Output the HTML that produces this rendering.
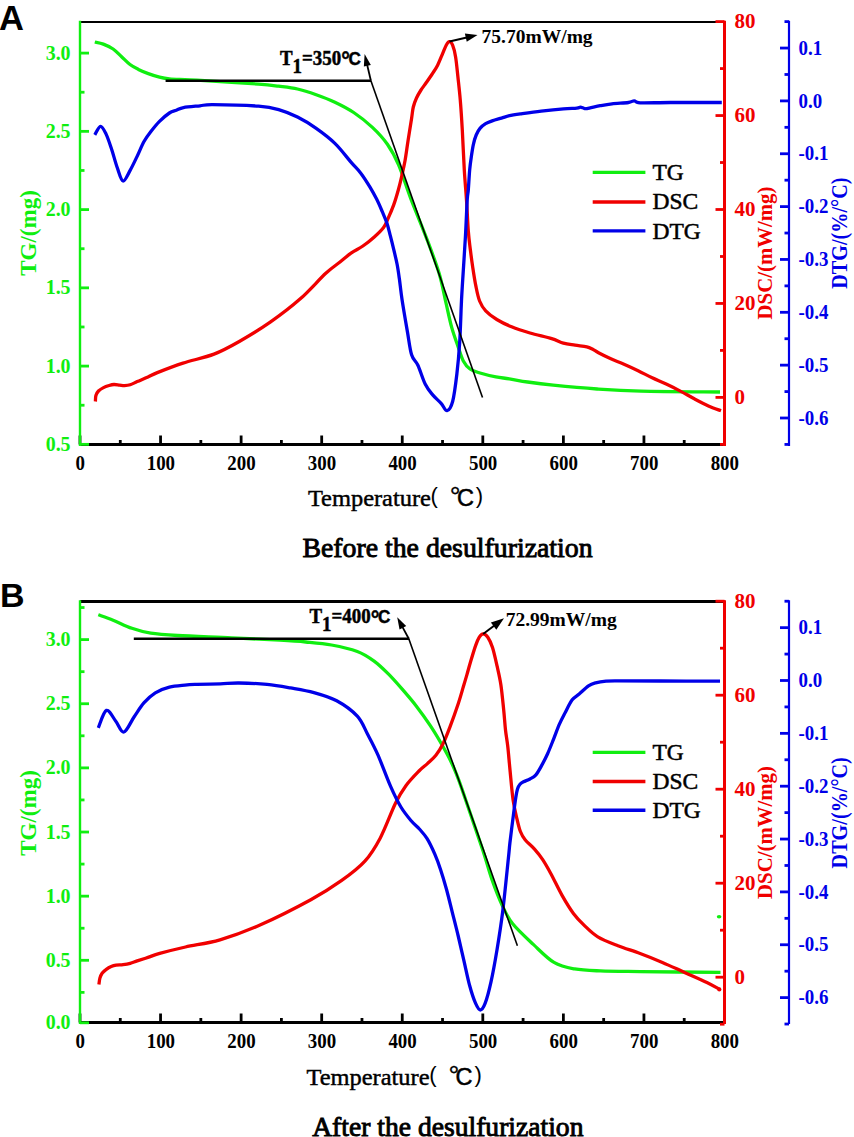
<!DOCTYPE html>
<html><head><meta charset="utf-8"><style>
html,body{margin:0;padding:0;background:#fff;}
body{width:854px;height:1137px;overflow:hidden;}
svg{display:block;}
</style></head><body>
<svg width="854" height="1137" viewBox="0 0 854 1137">
<rect width="854" height="1137" fill="#fff"/>
<line x1="80" y1="22" x2="724.5" y2="22" stroke="#000" stroke-width="2.1" stroke-linecap="butt"/>
<line x1="80" y1="444.5" x2="725.7" y2="444.5" stroke="#000" stroke-width="3.0" stroke-linecap="butt"/>
<line x1="80" y1="444.5" x2="80" y2="435.5" stroke="#000" stroke-width="2.8" stroke-linecap="butt"/>
<text transform="translate(80.3,470.1) scale(0.9,1)" font-family="Liberation Serif" font-size="21" font-weight="bold" fill="#000" text-anchor="middle">0</text>
<line x1="120.28" y1="444.5" x2="120.28" y2="440" stroke="#000" stroke-width="2.8" stroke-linecap="butt"/>
<line x1="160.56" y1="444.5" x2="160.56" y2="435.5" stroke="#000" stroke-width="2.8" stroke-linecap="butt"/>
<text transform="translate(160.86,470.1) scale(0.9,1)" font-family="Liberation Serif" font-size="21" font-weight="bold" fill="#000" text-anchor="middle">100</text>
<line x1="200.84" y1="444.5" x2="200.84" y2="440" stroke="#000" stroke-width="2.8" stroke-linecap="butt"/>
<line x1="241.12" y1="444.5" x2="241.12" y2="435.5" stroke="#000" stroke-width="2.8" stroke-linecap="butt"/>
<text transform="translate(241.43,470.1) scale(0.9,1)" font-family="Liberation Serif" font-size="21" font-weight="bold" fill="#000" text-anchor="middle">200</text>
<line x1="281.41" y1="444.5" x2="281.41" y2="440" stroke="#000" stroke-width="2.8" stroke-linecap="butt"/>
<line x1="321.69" y1="444.5" x2="321.69" y2="435.5" stroke="#000" stroke-width="2.8" stroke-linecap="butt"/>
<text transform="translate(321.99,470.1) scale(0.9,1)" font-family="Liberation Serif" font-size="21" font-weight="bold" fill="#000" text-anchor="middle">300</text>
<line x1="361.97" y1="444.5" x2="361.97" y2="440" stroke="#000" stroke-width="2.8" stroke-linecap="butt"/>
<line x1="402.25" y1="444.5" x2="402.25" y2="435.5" stroke="#000" stroke-width="2.8" stroke-linecap="butt"/>
<text transform="translate(402.55,470.1) scale(0.9,1)" font-family="Liberation Serif" font-size="21" font-weight="bold" fill="#000" text-anchor="middle">400</text>
<line x1="442.53" y1="444.5" x2="442.53" y2="440" stroke="#000" stroke-width="2.8" stroke-linecap="butt"/>
<line x1="482.81" y1="444.5" x2="482.81" y2="435.5" stroke="#000" stroke-width="2.8" stroke-linecap="butt"/>
<text transform="translate(483.11,470.1) scale(0.9,1)" font-family="Liberation Serif" font-size="21" font-weight="bold" fill="#000" text-anchor="middle">500</text>
<line x1="523.09" y1="444.5" x2="523.09" y2="440" stroke="#000" stroke-width="2.8" stroke-linecap="butt"/>
<line x1="563.38" y1="444.5" x2="563.38" y2="435.5" stroke="#000" stroke-width="2.8" stroke-linecap="butt"/>
<text transform="translate(563.67,470.1) scale(0.9,1)" font-family="Liberation Serif" font-size="21" font-weight="bold" fill="#000" text-anchor="middle">600</text>
<line x1="603.66" y1="444.5" x2="603.66" y2="440" stroke="#000" stroke-width="2.8" stroke-linecap="butt"/>
<line x1="643.94" y1="444.5" x2="643.94" y2="435.5" stroke="#000" stroke-width="2.8" stroke-linecap="butt"/>
<text transform="translate(644.24,470.1) scale(0.9,1)" font-family="Liberation Serif" font-size="21" font-weight="bold" fill="#000" text-anchor="middle">700</text>
<line x1="684.22" y1="444.5" x2="684.22" y2="440" stroke="#000" stroke-width="2.8" stroke-linecap="butt"/>
<line x1="724.5" y1="444.5" x2="724.5" y2="435.5" stroke="#000" stroke-width="2.8" stroke-linecap="butt"/>
<text transform="translate(724.8,470.1) scale(0.9,1)" font-family="Liberation Serif" font-size="21" font-weight="bold" fill="#000" text-anchor="middle">800</text>
<line x1="80" y1="20.8" x2="80" y2="445.9" stroke="#10ee10" stroke-width="2.4" stroke-linecap="butt"/>
<line x1="80" y1="444.35" x2="89" y2="444.35" stroke="#10ee10" stroke-width="2.8" stroke-linecap="butt"/>
<text transform="translate(70.6,450.95) scale(0.95,1)" font-family="Liberation Serif" font-size="21" font-weight="bold" fill="#10ee10" text-anchor="end">0.5</text>
<line x1="80" y1="405.23" x2="84.5" y2="405.23" stroke="#10ee10" stroke-width="2.8" stroke-linecap="butt"/>
<line x1="80" y1="366.1" x2="89" y2="366.1" stroke="#10ee10" stroke-width="2.8" stroke-linecap="butt"/>
<text transform="translate(70.6,372.7) scale(0.95,1)" font-family="Liberation Serif" font-size="21" font-weight="bold" fill="#10ee10" text-anchor="end">1.0</text>
<line x1="80" y1="326.98" x2="84.5" y2="326.98" stroke="#10ee10" stroke-width="2.8" stroke-linecap="butt"/>
<line x1="80" y1="287.85" x2="89" y2="287.85" stroke="#10ee10" stroke-width="2.8" stroke-linecap="butt"/>
<text transform="translate(70.6,294.45) scale(0.95,1)" font-family="Liberation Serif" font-size="21" font-weight="bold" fill="#10ee10" text-anchor="end">1.5</text>
<line x1="80" y1="248.72" x2="84.5" y2="248.72" stroke="#10ee10" stroke-width="2.8" stroke-linecap="butt"/>
<line x1="80" y1="209.6" x2="89" y2="209.6" stroke="#10ee10" stroke-width="2.8" stroke-linecap="butt"/>
<text transform="translate(70.6,216.2) scale(0.95,1)" font-family="Liberation Serif" font-size="21" font-weight="bold" fill="#10ee10" text-anchor="end">2.0</text>
<line x1="80" y1="170.47" x2="84.5" y2="170.47" stroke="#10ee10" stroke-width="2.8" stroke-linecap="butt"/>
<line x1="80" y1="131.35" x2="89" y2="131.35" stroke="#10ee10" stroke-width="2.8" stroke-linecap="butt"/>
<text transform="translate(70.6,137.95) scale(0.95,1)" font-family="Liberation Serif" font-size="21" font-weight="bold" fill="#10ee10" text-anchor="end">2.5</text>
<line x1="80" y1="92.22" x2="84.5" y2="92.22" stroke="#10ee10" stroke-width="2.8" stroke-linecap="butt"/>
<line x1="80" y1="53.1" x2="89" y2="53.1" stroke="#10ee10" stroke-width="2.8" stroke-linecap="butt"/>
<text transform="translate(70.6,59.7) scale(0.95,1)" font-family="Liberation Serif" font-size="21" font-weight="bold" fill="#10ee10" text-anchor="end">3.0</text>
<line x1="724.5" y1="20.8" x2="724.5" y2="445.9" stroke="#f00000" stroke-width="3.0" stroke-linecap="butt"/>
<line x1="724.5" y1="444.38" x2="720" y2="444.38" stroke="#f00000" stroke-width="2.8" stroke-linecap="butt"/>
<line x1="724.5" y1="397.4" x2="715.5" y2="397.4" stroke="#f00000" stroke-width="2.8" stroke-linecap="butt"/>
<text x="734.5" y="404" font-family="Liberation Serif" font-size="21" font-weight="bold" fill="#f00000" text-anchor="start" >0</text>
<line x1="724.5" y1="350.42" x2="720" y2="350.42" stroke="#f00000" stroke-width="2.8" stroke-linecap="butt"/>
<line x1="724.5" y1="303.45" x2="715.5" y2="303.45" stroke="#f00000" stroke-width="2.8" stroke-linecap="butt"/>
<text x="734.5" y="310.05" font-family="Liberation Serif" font-size="21" font-weight="bold" fill="#f00000" text-anchor="start" >20</text>
<line x1="724.5" y1="256.48" x2="720" y2="256.48" stroke="#f00000" stroke-width="2.8" stroke-linecap="butt"/>
<line x1="724.5" y1="209.5" x2="715.5" y2="209.5" stroke="#f00000" stroke-width="2.8" stroke-linecap="butt"/>
<text x="734.5" y="216.1" font-family="Liberation Serif" font-size="21" font-weight="bold" fill="#f00000" text-anchor="start" >40</text>
<line x1="724.5" y1="162.52" x2="720" y2="162.52" stroke="#f00000" stroke-width="2.8" stroke-linecap="butt"/>
<line x1="724.5" y1="115.55" x2="715.5" y2="115.55" stroke="#f00000" stroke-width="2.8" stroke-linecap="butt"/>
<text x="734.5" y="122.15" font-family="Liberation Serif" font-size="21" font-weight="bold" fill="#f00000" text-anchor="start" >60</text>
<line x1="724.5" y1="68.57" x2="720" y2="68.57" stroke="#f00000" stroke-width="2.8" stroke-linecap="butt"/>
<line x1="724.5" y1="21.6" x2="715.5" y2="21.6" stroke="#f00000" stroke-width="2.8" stroke-linecap="butt"/>
<text x="734.5" y="28.2" font-family="Liberation Serif" font-size="21" font-weight="bold" fill="#f00000" text-anchor="start" >80</text>
<line x1="789" y1="20.8" x2="789" y2="445.9" stroke="#0000e8" stroke-width="2.2" stroke-linecap="butt"/>
<line x1="789" y1="444.43" x2="784.5" y2="444.43" stroke="#0000e8" stroke-width="2.8" stroke-linecap="butt"/>
<line x1="789" y1="418" x2="780" y2="418" stroke="#0000e8" stroke-width="2.8" stroke-linecap="butt"/>
<text transform="translate(798.5,424.6) scale(0.9,1)" font-family="Liberation Serif" font-size="21" font-weight="bold" fill="#0000e8">-0.6</text>
<line x1="789" y1="391.58" x2="784.5" y2="391.58" stroke="#0000e8" stroke-width="2.8" stroke-linecap="butt"/>
<line x1="789" y1="365.15" x2="780" y2="365.15" stroke="#0000e8" stroke-width="2.8" stroke-linecap="butt"/>
<text transform="translate(798.5,371.75) scale(0.9,1)" font-family="Liberation Serif" font-size="21" font-weight="bold" fill="#0000e8">-0.5</text>
<line x1="789" y1="338.73" x2="784.5" y2="338.73" stroke="#0000e8" stroke-width="2.8" stroke-linecap="butt"/>
<line x1="789" y1="312.3" x2="780" y2="312.3" stroke="#0000e8" stroke-width="2.8" stroke-linecap="butt"/>
<text transform="translate(798.5,318.9) scale(0.9,1)" font-family="Liberation Serif" font-size="21" font-weight="bold" fill="#0000e8">-0.4</text>
<line x1="789" y1="285.88" x2="784.5" y2="285.88" stroke="#0000e8" stroke-width="2.8" stroke-linecap="butt"/>
<line x1="789" y1="259.45" x2="780" y2="259.45" stroke="#0000e8" stroke-width="2.8" stroke-linecap="butt"/>
<text transform="translate(798.5,266.05) scale(0.9,1)" font-family="Liberation Serif" font-size="21" font-weight="bold" fill="#0000e8">-0.3</text>
<line x1="789" y1="233.03" x2="784.5" y2="233.03" stroke="#0000e8" stroke-width="2.8" stroke-linecap="butt"/>
<line x1="789" y1="206.6" x2="780" y2="206.6" stroke="#0000e8" stroke-width="2.8" stroke-linecap="butt"/>
<text transform="translate(798.5,213.2) scale(0.9,1)" font-family="Liberation Serif" font-size="21" font-weight="bold" fill="#0000e8">-0.2</text>
<line x1="789" y1="180.18" x2="784.5" y2="180.18" stroke="#0000e8" stroke-width="2.8" stroke-linecap="butt"/>
<line x1="789" y1="153.75" x2="780" y2="153.75" stroke="#0000e8" stroke-width="2.8" stroke-linecap="butt"/>
<text transform="translate(798.5,160.35) scale(0.9,1)" font-family="Liberation Serif" font-size="21" font-weight="bold" fill="#0000e8">-0.1</text>
<line x1="789" y1="127.33" x2="784.5" y2="127.33" stroke="#0000e8" stroke-width="2.8" stroke-linecap="butt"/>
<line x1="789" y1="100.9" x2="780" y2="100.9" stroke="#0000e8" stroke-width="2.8" stroke-linecap="butt"/>
<text transform="translate(798.5,107.5) scale(0.9,1)" font-family="Liberation Serif" font-size="21" font-weight="bold" fill="#0000e8">0.0</text>
<line x1="789" y1="74.48" x2="784.5" y2="74.48" stroke="#0000e8" stroke-width="2.8" stroke-linecap="butt"/>
<line x1="789" y1="48.05" x2="780" y2="48.05" stroke="#0000e8" stroke-width="2.8" stroke-linecap="butt"/>
<text transform="translate(798.5,54.65) scale(0.9,1)" font-family="Liberation Serif" font-size="21" font-weight="bold" fill="#0000e8">0.1</text>
<line x1="789" y1="21.62" x2="784.5" y2="21.62" stroke="#0000e8" stroke-width="2.8" stroke-linecap="butt"/>
<line x1="80" y1="601.5" x2="724.5" y2="601.5" stroke="#000" stroke-width="2.9" stroke-linecap="butt"/>
<line x1="80" y1="1022.5" x2="725.7" y2="1022.5" stroke="#000" stroke-width="3.0" stroke-linecap="butt"/>
<line x1="80" y1="1022.5" x2="80" y2="1013.5" stroke="#000" stroke-width="2.8" stroke-linecap="butt"/>
<text transform="translate(80.3,1048.1) scale(0.9,1)" font-family="Liberation Serif" font-size="21" font-weight="bold" fill="#000" text-anchor="middle">0</text>
<line x1="120.28" y1="1022.5" x2="120.28" y2="1018" stroke="#000" stroke-width="2.8" stroke-linecap="butt"/>
<line x1="160.56" y1="1022.5" x2="160.56" y2="1013.5" stroke="#000" stroke-width="2.8" stroke-linecap="butt"/>
<text transform="translate(160.86,1048.1) scale(0.9,1)" font-family="Liberation Serif" font-size="21" font-weight="bold" fill="#000" text-anchor="middle">100</text>
<line x1="200.84" y1="1022.5" x2="200.84" y2="1018" stroke="#000" stroke-width="2.8" stroke-linecap="butt"/>
<line x1="241.12" y1="1022.5" x2="241.12" y2="1013.5" stroke="#000" stroke-width="2.8" stroke-linecap="butt"/>
<text transform="translate(241.43,1048.1) scale(0.9,1)" font-family="Liberation Serif" font-size="21" font-weight="bold" fill="#000" text-anchor="middle">200</text>
<line x1="281.41" y1="1022.5" x2="281.41" y2="1018" stroke="#000" stroke-width="2.8" stroke-linecap="butt"/>
<line x1="321.69" y1="1022.5" x2="321.69" y2="1013.5" stroke="#000" stroke-width="2.8" stroke-linecap="butt"/>
<text transform="translate(321.99,1048.1) scale(0.9,1)" font-family="Liberation Serif" font-size="21" font-weight="bold" fill="#000" text-anchor="middle">300</text>
<line x1="361.97" y1="1022.5" x2="361.97" y2="1018" stroke="#000" stroke-width="2.8" stroke-linecap="butt"/>
<line x1="402.25" y1="1022.5" x2="402.25" y2="1013.5" stroke="#000" stroke-width="2.8" stroke-linecap="butt"/>
<text transform="translate(402.55,1048.1) scale(0.9,1)" font-family="Liberation Serif" font-size="21" font-weight="bold" fill="#000" text-anchor="middle">400</text>
<line x1="442.53" y1="1022.5" x2="442.53" y2="1018" stroke="#000" stroke-width="2.8" stroke-linecap="butt"/>
<line x1="482.81" y1="1022.5" x2="482.81" y2="1013.5" stroke="#000" stroke-width="2.8" stroke-linecap="butt"/>
<text transform="translate(483.11,1048.1) scale(0.9,1)" font-family="Liberation Serif" font-size="21" font-weight="bold" fill="#000" text-anchor="middle">500</text>
<line x1="523.09" y1="1022.5" x2="523.09" y2="1018" stroke="#000" stroke-width="2.8" stroke-linecap="butt"/>
<line x1="563.38" y1="1022.5" x2="563.38" y2="1013.5" stroke="#000" stroke-width="2.8" stroke-linecap="butt"/>
<text transform="translate(563.67,1048.1) scale(0.9,1)" font-family="Liberation Serif" font-size="21" font-weight="bold" fill="#000" text-anchor="middle">600</text>
<line x1="603.66" y1="1022.5" x2="603.66" y2="1018" stroke="#000" stroke-width="2.8" stroke-linecap="butt"/>
<line x1="643.94" y1="1022.5" x2="643.94" y2="1013.5" stroke="#000" stroke-width="2.8" stroke-linecap="butt"/>
<text transform="translate(644.24,1048.1) scale(0.9,1)" font-family="Liberation Serif" font-size="21" font-weight="bold" fill="#000" text-anchor="middle">700</text>
<line x1="684.22" y1="1022.5" x2="684.22" y2="1018" stroke="#000" stroke-width="2.8" stroke-linecap="butt"/>
<line x1="724.5" y1="1022.5" x2="724.5" y2="1013.5" stroke="#000" stroke-width="2.8" stroke-linecap="butt"/>
<text transform="translate(724.8,1048.1) scale(0.9,1)" font-family="Liberation Serif" font-size="21" font-weight="bold" fill="#000" text-anchor="middle">800</text>
<line x1="80" y1="600.3" x2="80" y2="1023.9" stroke="#10ee10" stroke-width="2.4" stroke-linecap="butt"/>
<line x1="80" y1="1022.8" x2="89" y2="1022.8" stroke="#10ee10" stroke-width="2.8" stroke-linecap="butt"/>
<text transform="translate(70.6,1029.4) scale(0.95,1)" font-family="Liberation Serif" font-size="21" font-weight="bold" fill="#10ee10" text-anchor="end">0.0</text>
<line x1="80" y1="992.37" x2="84.5" y2="992.37" stroke="#10ee10" stroke-width="2.8" stroke-linecap="butt"/>
<line x1="80" y1="960.3" x2="89" y2="960.3" stroke="#10ee10" stroke-width="2.8" stroke-linecap="butt"/>
<text transform="translate(70.6,966.9) scale(0.95,1)" font-family="Liberation Serif" font-size="21" font-weight="bold" fill="#10ee10" text-anchor="end">0.5</text>
<line x1="80" y1="928.23" x2="84.5" y2="928.23" stroke="#10ee10" stroke-width="2.8" stroke-linecap="butt"/>
<line x1="80" y1="896.16" x2="89" y2="896.16" stroke="#10ee10" stroke-width="2.8" stroke-linecap="butt"/>
<text transform="translate(70.6,902.76) scale(0.95,1)" font-family="Liberation Serif" font-size="21" font-weight="bold" fill="#10ee10" text-anchor="end">1.0</text>
<line x1="80" y1="864.09" x2="84.5" y2="864.09" stroke="#10ee10" stroke-width="2.8" stroke-linecap="butt"/>
<line x1="80" y1="832.02" x2="89" y2="832.02" stroke="#10ee10" stroke-width="2.8" stroke-linecap="butt"/>
<text transform="translate(70.6,838.62) scale(0.95,1)" font-family="Liberation Serif" font-size="21" font-weight="bold" fill="#10ee10" text-anchor="end">1.5</text>
<line x1="80" y1="799.95" x2="84.5" y2="799.95" stroke="#10ee10" stroke-width="2.8" stroke-linecap="butt"/>
<line x1="80" y1="767.88" x2="89" y2="767.88" stroke="#10ee10" stroke-width="2.8" stroke-linecap="butt"/>
<text transform="translate(70.6,774.48) scale(0.95,1)" font-family="Liberation Serif" font-size="21" font-weight="bold" fill="#10ee10" text-anchor="end">2.0</text>
<line x1="80" y1="735.81" x2="84.5" y2="735.81" stroke="#10ee10" stroke-width="2.8" stroke-linecap="butt"/>
<line x1="80" y1="703.74" x2="89" y2="703.74" stroke="#10ee10" stroke-width="2.8" stroke-linecap="butt"/>
<text transform="translate(70.6,710.34) scale(0.95,1)" font-family="Liberation Serif" font-size="21" font-weight="bold" fill="#10ee10" text-anchor="end">2.5</text>
<line x1="80" y1="671.67" x2="84.5" y2="671.67" stroke="#10ee10" stroke-width="2.8" stroke-linecap="butt"/>
<line x1="80" y1="639.6" x2="89" y2="639.6" stroke="#10ee10" stroke-width="2.8" stroke-linecap="butt"/>
<text transform="translate(70.6,646.2) scale(0.95,1)" font-family="Liberation Serif" font-size="21" font-weight="bold" fill="#10ee10" text-anchor="end">3.0</text>
<line x1="80" y1="607.53" x2="84.5" y2="607.53" stroke="#10ee10" stroke-width="2.8" stroke-linecap="butt"/>
<line x1="724.5" y1="600.3" x2="724.5" y2="1023.9" stroke="#f00000" stroke-width="3.0" stroke-linecap="butt"/>
<line x1="724.5" y1="1024.2" x2="720" y2="1024.2" stroke="#f00000" stroke-width="2.8" stroke-linecap="butt"/>
<line x1="724.5" y1="977.2" x2="715.5" y2="977.2" stroke="#f00000" stroke-width="2.8" stroke-linecap="butt"/>
<text x="734.5" y="983.8" font-family="Liberation Serif" font-size="21" font-weight="bold" fill="#f00000" text-anchor="start" >0</text>
<line x1="724.5" y1="930.2" x2="720" y2="930.2" stroke="#f00000" stroke-width="2.8" stroke-linecap="butt"/>
<line x1="724.5" y1="883.2" x2="715.5" y2="883.2" stroke="#f00000" stroke-width="2.8" stroke-linecap="butt"/>
<text x="734.5" y="889.8" font-family="Liberation Serif" font-size="21" font-weight="bold" fill="#f00000" text-anchor="start" >20</text>
<line x1="724.5" y1="836.2" x2="720" y2="836.2" stroke="#f00000" stroke-width="2.8" stroke-linecap="butt"/>
<line x1="724.5" y1="789.2" x2="715.5" y2="789.2" stroke="#f00000" stroke-width="2.8" stroke-linecap="butt"/>
<text x="734.5" y="795.8" font-family="Liberation Serif" font-size="21" font-weight="bold" fill="#f00000" text-anchor="start" >40</text>
<line x1="724.5" y1="742.2" x2="720" y2="742.2" stroke="#f00000" stroke-width="2.8" stroke-linecap="butt"/>
<line x1="724.5" y1="695.2" x2="715.5" y2="695.2" stroke="#f00000" stroke-width="2.8" stroke-linecap="butt"/>
<text x="734.5" y="701.8" font-family="Liberation Serif" font-size="21" font-weight="bold" fill="#f00000" text-anchor="start" >60</text>
<line x1="724.5" y1="648.2" x2="720" y2="648.2" stroke="#f00000" stroke-width="2.8" stroke-linecap="butt"/>
<line x1="724.5" y1="601.2" x2="715.5" y2="601.2" stroke="#f00000" stroke-width="2.8" stroke-linecap="butt"/>
<text x="734.5" y="607.8" font-family="Liberation Serif" font-size="21" font-weight="bold" fill="#f00000" text-anchor="start" >80</text>
<line x1="789" y1="600.3" x2="789" y2="1023.9" stroke="#0000e8" stroke-width="2.2" stroke-linecap="butt"/>
<line x1="789" y1="1024.03" x2="784.5" y2="1024.03" stroke="#0000e8" stroke-width="2.8" stroke-linecap="butt"/>
<line x1="789" y1="997.6" x2="780" y2="997.6" stroke="#0000e8" stroke-width="2.8" stroke-linecap="butt"/>
<text transform="translate(798.5,1004.2) scale(0.9,1)" font-family="Liberation Serif" font-size="21" font-weight="bold" fill="#0000e8">-0.6</text>
<line x1="789" y1="971.17" x2="784.5" y2="971.17" stroke="#0000e8" stroke-width="2.8" stroke-linecap="butt"/>
<line x1="789" y1="944.75" x2="780" y2="944.75" stroke="#0000e8" stroke-width="2.8" stroke-linecap="butt"/>
<text transform="translate(798.5,951.35) scale(0.9,1)" font-family="Liberation Serif" font-size="21" font-weight="bold" fill="#0000e8">-0.5</text>
<line x1="789" y1="918.33" x2="784.5" y2="918.33" stroke="#0000e8" stroke-width="2.8" stroke-linecap="butt"/>
<line x1="789" y1="891.9" x2="780" y2="891.9" stroke="#0000e8" stroke-width="2.8" stroke-linecap="butt"/>
<text transform="translate(798.5,898.5) scale(0.9,1)" font-family="Liberation Serif" font-size="21" font-weight="bold" fill="#0000e8">-0.4</text>
<line x1="789" y1="865.48" x2="784.5" y2="865.48" stroke="#0000e8" stroke-width="2.8" stroke-linecap="butt"/>
<line x1="789" y1="839.05" x2="780" y2="839.05" stroke="#0000e8" stroke-width="2.8" stroke-linecap="butt"/>
<text transform="translate(798.5,845.65) scale(0.9,1)" font-family="Liberation Serif" font-size="21" font-weight="bold" fill="#0000e8">-0.3</text>
<line x1="789" y1="812.62" x2="784.5" y2="812.62" stroke="#0000e8" stroke-width="2.8" stroke-linecap="butt"/>
<line x1="789" y1="786.2" x2="780" y2="786.2" stroke="#0000e8" stroke-width="2.8" stroke-linecap="butt"/>
<text transform="translate(798.5,792.8) scale(0.9,1)" font-family="Liberation Serif" font-size="21" font-weight="bold" fill="#0000e8">-0.2</text>
<line x1="789" y1="759.77" x2="784.5" y2="759.77" stroke="#0000e8" stroke-width="2.8" stroke-linecap="butt"/>
<line x1="789" y1="733.35" x2="780" y2="733.35" stroke="#0000e8" stroke-width="2.8" stroke-linecap="butt"/>
<text transform="translate(798.5,739.95) scale(0.9,1)" font-family="Liberation Serif" font-size="21" font-weight="bold" fill="#0000e8">-0.1</text>
<line x1="789" y1="706.92" x2="784.5" y2="706.92" stroke="#0000e8" stroke-width="2.8" stroke-linecap="butt"/>
<line x1="789" y1="680.5" x2="780" y2="680.5" stroke="#0000e8" stroke-width="2.8" stroke-linecap="butt"/>
<text transform="translate(798.5,687.1) scale(0.9,1)" font-family="Liberation Serif" font-size="21" font-weight="bold" fill="#0000e8">0.0</text>
<line x1="789" y1="654.08" x2="784.5" y2="654.08" stroke="#0000e8" stroke-width="2.8" stroke-linecap="butt"/>
<line x1="789" y1="627.65" x2="780" y2="627.65" stroke="#0000e8" stroke-width="2.8" stroke-linecap="butt"/>
<text transform="translate(798.5,634.25) scale(0.9,1)" font-family="Liberation Serif" font-size="21" font-weight="bold" fill="#0000e8">0.1</text>
<line x1="789" y1="601.23" x2="784.5" y2="601.23" stroke="#0000e8" stroke-width="2.8" stroke-linecap="butt"/>
<path d="M94.8,42 C96.22,42.35 100.25,42.93 103.3,44.1 C106.35,45.27 110.05,46.9 113.1,49 C116.15,51.1 118.78,54.12 121.6,56.7 C124.42,59.28 127.2,62.38 130,64.5 C132.8,66.62 135.35,67.88 138.4,69.4 C141.45,70.92 144.78,72.32 148.3,73.6 C151.82,74.88 155.98,76.22 159.5,77.1 C163.02,77.98 165.15,78.47 169.4,78.9 C173.65,79.33 179.12,79.42 185,79.7 C190.88,79.98 192.45,79.87 204.7,80.6 C216.95,81.33 246.17,83.17 258.5,84.1 C270.83,85.03 272.2,85.38 278.7,86.2 C285.2,87.02 291.25,87.58 297.5,89 C303.75,90.42 309.97,92.5 316.2,94.7 C322.43,96.9 328.65,99.23 334.9,102.2 C341.15,105.17 347.45,108.3 353.7,112.5 C359.95,116.7 366.78,122.1 372.4,127.4 C378.02,132.7 383.03,138.05 387.4,144.3 C391.77,150.55 394.7,155.85 398.6,164.9 C402.5,173.95 406.2,186.53 410.8,198.6 C415.4,210.67 421.48,224.85 426.2,237.3 C430.92,249.75 435.8,262.35 439.1,273.3 C442.4,284.25 443.9,293.98 446,303 C448.1,312.02 449.7,320.17 451.7,327.4 C453.7,334.63 456.07,340.8 458,346.4 C459.93,352 461.3,357.23 463.3,361 C465.3,364.77 467.22,367 470,369 C472.78,371 475.68,371.68 480,373 C484.32,374.32 491.02,375.93 495.9,376.9 C500.78,377.87 504.02,377.95 509.3,378.8 C514.58,379.65 520.28,380.93 527.6,382 C534.92,383.07 541.62,384.03 553.2,385.2 C564.78,386.37 582.47,388.02 597.1,389 C611.73,389.98 620.52,390.6 641,391.1 C661.48,391.6 706.83,391.85 720,392" fill="none" stroke="#10ee10" stroke-width="3.3" stroke-linejoin="round" stroke-linecap="butt"/>
<path d="M95.4,401.5 C95.48,400.5 95.38,397.25 95.9,395.5 C96.42,393.75 97.23,392.32 98.5,391 C99.77,389.68 101.73,388.52 103.5,387.6 C105.27,386.68 107.35,386.02 109.1,385.5 C110.85,384.98 112.25,384.57 114,384.5 C115.75,384.43 117.85,384.92 119.6,385.1 C121.35,385.28 122.73,385.65 124.5,385.6 C126.27,385.55 128.08,385.47 130.2,384.8 C132.32,384.13 134.23,382.9 137.2,381.6 C140.17,380.3 144.65,378.5 148,377 C151.35,375.5 151.47,374.92 157.3,372.6 C163.13,370.28 173.55,366.18 183,363.1 C192.45,360.02 204.55,357.75 214,354.1 C223.45,350.45 230.27,346.57 239.7,341.2 C249.13,335.83 260.55,328.92 270.6,321.9 C280.65,314.88 290.8,307.2 300,299.1 C309.2,291 319.13,279.48 325.8,273.3 C332.47,267.12 335.73,265.4 340,262 C344.27,258.6 347.58,255.57 351.4,252.9 C355.22,250.23 359.08,248.67 362.9,246 C366.72,243.33 370.88,239.95 374.3,236.9 C377.72,233.85 381.12,230.75 383.4,227.7 C385.68,224.65 386.28,222.4 388,218.6 C389.72,214.8 391.98,209.67 393.7,204.9 C395.42,200.13 396.97,194.77 398.3,190 C399.63,185.23 400.57,181.25 401.7,176.3 C402.83,171.35 404.05,166.18 405.1,160.3 C406.15,154.42 406.93,147.88 408,141 C409.07,134.12 410.62,124.67 411.5,119 C412.38,113.33 412.47,110.5 413.3,107 C414.13,103.5 415.22,100.83 416.5,98 C417.78,95.17 419.42,92.5 421,90 C422.58,87.5 424.13,85.67 426,83 C427.87,80.33 430.28,76.92 432.2,74 C434.12,71.08 435.75,68.93 437.5,65.5 C439.25,62.07 441.25,56.78 442.7,53.4 C444.15,50.02 445.1,47.15 446.2,45.2 C447.3,43.25 448.23,41.7 449.3,41.7 C450.37,41.7 451.55,42.67 452.6,45.2 C453.65,47.73 454.72,51.63 455.6,56.9 C456.48,62.17 457.12,69.57 457.9,76.8 C458.68,84.03 459.57,91.43 460.3,100.3 C461.03,109.17 461.63,118.38 462.3,130 C462.97,141.62 463.6,158.33 464.3,170 C465,181.67 465.83,189.87 466.5,200 C467.17,210.13 467.67,222.58 468.3,230.8 C468.93,239.02 469.55,243.15 470.3,249.3 C471.05,255.45 471.87,261.55 472.8,267.7 C473.73,273.85 474.77,280.65 475.9,286.2 C477.03,291.75 477.97,296.9 479.6,301 C481.23,305.1 482.83,307.72 485.7,310.8 C488.57,313.88 492.48,316.83 496.8,319.5 C501.12,322.17 506.07,324.55 511.6,326.8 C517.13,329.05 523.32,331.02 530,333 C536.68,334.98 546.13,337 551.7,338.7 C557.27,340.4 559.5,342.12 563.4,343.2 C567.3,344.28 571.2,344.58 575.1,345.2 C579,345.82 583.87,346.22 586.8,346.9 C589.73,347.58 590.75,348.32 592.7,349.3 C594.65,350.28 595.57,351.25 598.5,352.8 C601.43,354.35 606.05,356.7 610.3,358.6 C614.55,360.5 619.37,362.18 624,364.2 C628.63,366.22 633.4,368.43 638.1,370.7 C642.8,372.97 647.52,375.57 652.2,377.8 C656.88,380.03 661.52,381.88 666.2,384.1 C670.88,386.32 675.62,388.65 680.3,391.1 C684.98,393.55 689.62,396.33 694.3,398.8 C698.98,401.27 703.95,403.9 708.4,405.9 C712.85,407.9 718.9,409.98 721,410.8" fill="none" stroke="#f00000" stroke-width="3.3" stroke-linejoin="round" stroke-linecap="butt"/>
<path d="M94.8,134.8 C95.75,133.38 98.62,126.42 100.5,126.3 C102.38,126.18 104.23,130.23 106.1,134.1 C107.97,137.97 109.83,143.88 111.7,149.5 C113.57,155.12 115.42,162.55 117.3,167.8 C119.18,173.05 120.88,180.53 123,181 C125.12,181.47 127.67,174.67 130,170.6 C132.33,166.53 134.67,161.45 137,156.6 C139.33,151.75 141.65,145.72 144,141.5 C146.35,137.28 148.52,134.65 151.1,131.3 C153.68,127.95 156.45,124.45 159.5,121.4 C162.55,118.35 166.58,114.87 169.4,113 C172.22,111.13 174.05,111.1 176.4,110.2 C178.75,109.3 179.57,108.33 183.5,107.6 C187.43,106.87 195.13,106.3 200,105.8 C204.87,105.3 202.95,104.53 212.7,104.6 C222.45,104.67 247.5,105.37 258.5,106.2 C269.5,107.03 272.2,107.78 278.7,109.6 C285.2,111.42 291.25,113.97 297.5,117.1 C303.75,120.23 309.97,124.02 316.2,128.4 C322.43,132.78 329.03,137.7 334.9,143.4 C340.77,149.1 347.12,157.68 351.4,162.6 C355.68,167.52 357.55,168.9 360.6,172.9 C363.65,176.9 367.03,182.23 369.7,186.6 C372.37,190.97 374.5,194.92 376.6,199.1 C378.7,203.28 380.58,207.7 382.3,211.7 C384.02,215.7 385.57,219.1 386.9,223.1 C388.23,227.1 389.17,231.32 390.3,235.7 C391.43,240.08 392.57,244.63 393.7,249.4 C394.83,254.17 396.15,259.35 397.1,264.3 C398.05,269.25 398.57,273.15 399.4,279.1 C400.23,285.05 400.77,291.25 402.1,300 C403.43,308.75 405.82,322.47 407.4,331.6 C408.98,340.73 409.85,349.18 411.6,354.8 C413.35,360.42 415.62,360.38 417.9,365.3 C420.18,370.22 422.83,379.37 425.3,384.3 C427.77,389.23 430.07,391.73 432.7,394.9 C435.33,398.07 438.72,400.67 441.1,403.3 C443.48,405.93 445.07,411.05 447,410.7 C448.93,410.35 451.05,407.35 452.7,401.2 C454.35,395.05 455.73,383.63 456.9,373.8 C458.07,363.97 458.97,353.67 459.7,342.2 C460.43,330.73 460.87,314.33 461.3,305 C461.73,295.67 461.62,297.53 462.3,286.2 C462.98,274.87 464.58,251.37 465.4,237 C466.22,222.63 466.72,207.83 467.2,200 C467.68,192.17 467.88,195.07 468.3,190 C468.72,184.93 469.17,175.33 469.7,169.6 C470.23,163.87 470.88,159.82 471.5,155.6 C472.12,151.38 472.62,147.73 473.4,144.3 C474.18,140.87 475.1,137.65 476.2,135 C477.3,132.35 478.43,130.28 480,128.4 C481.57,126.52 483.57,124.95 485.6,123.7 C487.63,122.45 489.55,121.83 492.2,120.9 C494.85,119.97 498.38,119.03 501.5,118.1 C504.62,117.17 507.77,116 510.9,115.3 C514.03,114.6 515.25,114.58 520.3,113.9 C525.35,113.22 534,112.03 541.2,111.2 C548.4,110.37 557.57,109.42 563.5,108.9 C569.43,108.38 573.98,108.38 576.8,108.1 C579.62,107.82 579.2,107.17 580.4,107.2 C581.6,107.23 582.9,108.07 584,108.3 C585.1,108.53 584.28,109.03 587,108.6 C589.72,108.17 596.13,106.5 600.3,105.7 C604.47,104.9 607.32,104.33 612,103.8 C616.68,103.27 624.7,103 628.4,102.5 C632.1,102 632.25,100.75 634.2,100.8 C636.15,100.85 634.05,102.52 640.1,102.8 C646.15,103.08 656.88,102.55 670.5,102.5 C684.12,102.45 713.25,102.5 721.8,102.5" fill="none" stroke="#0000e8" stroke-width="3.3" stroke-linejoin="round" stroke-linecap="butt"/>
<path d="M98.3,614.8 C100.77,615.7 107.5,617.95 113.1,620.2 C118.7,622.45 125.62,626.13 131.9,628.3 C138.18,630.47 143.17,632 150.8,633.2 C158.43,634.4 164.23,634.73 177.7,635.5 C191.17,636.27 214.55,637.02 231.6,637.8 C248.65,638.58 267.63,639.5 280,640.2 C292.37,640.9 297.22,641.2 305.8,642 C314.38,642.8 322.92,643.42 331.5,645 C340.08,646.58 350.2,648.82 357.3,651.5 C364.4,654.18 368.97,657.4 374.1,661.1 C379.23,664.8 383.42,669.02 388.1,673.7 C392.78,678.38 397.52,683.82 402.2,689.2 C406.88,694.58 411.52,699.92 416.2,706 C420.88,712.08 426.08,719.37 430.3,725.7 C434.52,732.03 438,737.92 441.5,744 C445,750.08 448.48,756.35 451.3,762.2 C454.12,768.05 456,772.8 458.4,779.1 C460.8,785.4 461.6,788.05 465.7,800 C469.8,811.95 478.6,837.47 483,850.8 C487.4,864.13 488.87,870.83 492.1,880 C495.33,889.17 498.97,898.5 502.4,905.8 C505.83,913.1 507.55,917.37 512.7,923.8 C517.85,930.23 526.42,937.97 533.3,944.4 C540.18,950.83 547.12,958.32 554,962.4 C560.88,966.48 566.88,967.48 574.6,968.9 C582.32,970.32 589.4,970.45 600.3,970.9 C611.2,971.35 619.97,971.35 640,971.6 C660.03,971.85 707.08,972.27 720.5,972.4" fill="none" stroke="#10ee10" stroke-width="3.3" stroke-linejoin="round" stroke-linecap="butt"/>
<path d="M98.9,984.5 C99.07,983.43 99.37,979.98 99.9,978.1 C100.43,976.22 101.03,974.67 102.1,973.2 C103.17,971.73 104.78,970.42 106.3,969.3 C107.82,968.18 109.57,967.2 111.2,966.5 C112.83,965.8 114.12,965.42 116.1,965.1 C118.08,964.78 120.75,964.9 123.1,964.6 C125.45,964.3 127.85,963.92 130.2,963.3 C132.55,962.68 134.23,961.88 137.2,960.9 C140.17,959.92 144.25,958.65 148,957.4 C151.75,956.15 153.45,955.13 159.7,953.4 C165.95,951.67 175.45,949.27 185.5,947 C195.55,944.73 207.58,943.47 220,939.8 C232.42,936.13 244.87,931.68 260,925 C275.13,918.32 297.18,907.13 310.8,899.7 C324.42,892.27 332.68,886.83 341.7,880.4 C350.72,873.97 358.47,868.18 364.9,861.1 C371.33,854.02 375.18,847.58 380.3,837.9 C385.42,828.22 391.33,811.7 395.6,803 C399.87,794.3 402,791.03 405.9,785.7 C409.8,780.37 415.42,774.68 419,771 C422.58,767.32 424.58,766.23 427.4,763.6 C430.22,760.97 433.32,758.47 435.9,755.2 C438.48,751.93 440.57,748.68 442.9,744 C445.23,739.32 447.32,733.9 449.9,727.1 C452.48,720.3 456.15,709.97 458.4,703.2 C460.65,696.43 462,691.18 463.4,686.5 C464.8,681.82 465.62,679.18 466.8,675.1 C467.98,671.02 469.03,666.92 470.5,662 C471.97,657.08 474.13,649.73 475.6,645.6 C477.07,641.47 478.05,639.15 479.3,637.2 C480.55,635.25 481.68,633.9 483.1,633.9 C484.52,633.9 486.23,634.93 487.8,637.2 C489.37,639.47 490.95,642.67 492.5,647.5 C494.05,652.33 495.7,659.97 497.1,666.2 C498.5,672.43 499.8,677.6 500.9,684.9 C502,692.2 502.93,702.48 503.7,710 C504.47,717.52 504.82,723.87 505.5,730 C506.18,736.13 507.05,740.13 507.8,746.8 C508.55,753.47 509.12,761.13 510,770 C510.88,778.87 511.95,791.9 513.1,800 C514.25,808.1 515.68,813.35 516.9,818.6 C518.12,823.85 519.03,827.98 520.4,831.5 C521.77,835.02 522.75,836.77 525.1,839.7 C527.45,842.63 531.57,845.78 534.5,849.1 C537.43,852.42 539.97,855.5 542.7,859.6 C545.43,863.7 547.65,867.7 550.9,873.7 C554.15,879.7 558.45,888.98 562.2,895.6 C565.95,902.22 569.68,908.4 573.4,913.4 C577.12,918.4 580.43,921.7 584.5,925.6 C588.57,929.5 592.23,933.45 597.8,936.8 C603.37,940.15 610.85,942.92 617.9,945.7 C624.95,948.48 632.68,950.72 640.1,953.5 C647.52,956.28 654.98,959.25 662.4,962.4 C669.82,965.55 677.18,969.07 684.6,972.4 C692.02,975.73 701.15,979.62 706.9,982.4 C712.65,985.18 717.07,987.98 719.1,989.1" fill="none" stroke="#f00000" stroke-width="3.3" stroke-linejoin="round" stroke-linecap="butt"/>
<path d="M98.3,727.9 C99.65,724.98 103.48,711.52 106.4,710.4 C109.32,709.28 112.88,717.6 115.8,721.2 C118.72,724.8 120.83,732.75 123.9,732 C126.97,731.25 130.83,721.58 134.2,716.7 C137.57,711.82 140.58,706.68 144.1,702.7 C147.62,698.72 151.08,695.38 155.3,692.8 C159.52,690.22 164.45,688.48 169.4,687.2 C174.35,685.92 180.43,685.57 185,685.1 C189.57,684.63 190.92,684.62 196.8,684.4 C202.68,684.18 213.27,684.03 220.3,683.8 C227.33,683.57 231.2,682.9 239,683 C246.8,683.1 258.52,683.58 267.1,684.4 C275.68,685.22 282.7,686.53 290.5,687.9 C298.3,689.27 306.2,690.45 313.9,692.6 C321.6,694.75 329.47,696.87 336.7,700.8 C343.93,704.73 352.15,710.62 357.3,716.2 C362.45,721.78 364.17,727.85 367.6,734.3 C371.03,740.75 374.07,746.22 377.9,754.9 C381.73,763.58 386.77,777.72 390.6,786.4 C394.43,795.08 397.4,801.18 400.9,807 C404.4,812.82 408.52,817.63 411.6,821.3 C414.68,824.97 416.82,826.1 419.4,829 C421.98,831.9 424.53,834.5 427.1,838.7 C429.67,842.9 432.55,849.03 434.8,854.2 C437.05,859.37 438.67,863.9 440.6,869.7 C442.53,875.5 444.45,881.9 446.4,889 C448.35,896.1 450.35,904.55 452.3,912.3 C454.25,920.05 456.17,927.45 458.1,935.5 C460.03,943.55 461.97,952.22 463.9,960.6 C465.83,968.98 467.77,978.7 469.7,985.8 C471.63,992.9 473.73,999.17 475.5,1003.2 C477.27,1007.23 478.68,1010 480.3,1010 C481.92,1010 483.42,1007.88 485.2,1003.2 C486.98,998.52 489.07,990.6 491,981.9 C492.93,973.2 494.87,962.6 496.8,951 C498.73,939.4 500.67,927.78 502.6,912.3 C504.53,896.82 507.18,869.65 508.4,858.1 C509.62,846.55 509.07,850.17 509.9,843 C510.73,835.83 512.42,822.67 513.4,815.1 C514.38,807.53 515.1,801.98 515.8,797.6 C516.5,793.22 516.9,791.02 517.6,788.8 C518.3,786.58 519.02,785.47 520,784.3 C520.98,783.13 521.83,782.68 523.5,781.8 C525.17,780.92 527.93,780.17 530,779 C532.07,777.83 533.95,777.07 535.9,774.8 C537.85,772.53 539.75,768.92 541.7,765.4 C543.65,761.88 545.65,758 547.6,753.7 C549.55,749.4 551.45,744.48 553.4,739.6 C555.35,734.72 557.35,728.88 559.3,724.4 C561.25,719.92 562.95,716.8 565.1,712.7 C567.25,708.6 569.85,702.92 572.2,699.8 C574.55,696.68 576.48,696.33 579.2,694 C581.92,691.67 585.77,687.67 588.5,685.8 C591.23,683.93 592.67,683.58 595.6,682.8 C598.53,682.02 602.4,681.43 606.1,681.1 C609.8,680.77 608.82,680.82 617.8,680.8 C626.78,680.78 642.97,680.93 660,681 C677.03,681.07 710,681.17 720,681.2" fill="none" stroke="#0000e8" stroke-width="3.3" stroke-linejoin="round" stroke-linecap="butt"/>
<line x1="165.6" y1="80.8" x2="371.2" y2="80.8" stroke="#000" stroke-width="2.5" stroke-linecap="butt"/>
<line x1="370.9" y1="80.8" x2="482.5" y2="397.5" stroke="#000" stroke-width="1.6" stroke-linecap="butt"/>
<line x1="370.9" y1="80.8" x2="367.13" y2="64.81" stroke="#000" stroke-width="1.8" stroke-linecap="butt"/>
<polygon points="364.6,54.1 370.86,64.95 363.85,66.61" fill="#000"/>
<line x1="133.8" y1="638.8" x2="409.2" y2="638.8" stroke="#000" stroke-width="2.5" stroke-linecap="butt"/>
<line x1="408.8" y1="638.8" x2="517.4" y2="945.7" stroke="#000" stroke-width="1.6" stroke-linecap="butt"/>
<line x1="408.8" y1="638.8" x2="402.4" y2="626.89" stroke="#000" stroke-width="1.8" stroke-linecap="butt"/>
<polygon points="397.2,617.2 406.23,625.97 399.53,629.57" fill="#000"/>
<line x1="449.5" y1="41.5" x2="466.78" y2="37.49" stroke="#000" stroke-width="2.0" stroke-linecap="butt"/>
<polygon points="477.5,35 466.76,41.8 464.86,33.62" fill="#000"/>
<line x1="483.1" y1="634" x2="494.41" y2="625.51" stroke="#000" stroke-width="2.0" stroke-linecap="butt"/>
<polygon points="504,618.3 496.31,629.71 490.9,622.51" fill="#000"/>
<text transform="translate(280,64.8) scale(0.9,1)" font-family="Liberation Serif" font-size="21" font-weight="bold" fill="#000" stroke="#000" stroke-width="0.5">T<tspan dy="8">1</tspan><tspan dy="-8">=350</tspan><tspan font-family="Liberation Sans" font-size="24" dy="3.3">°</tspan><tspan font-family="Liberation Sans" font-size="19" dy="-3.3" dx="-1.5">C</tspan></text>
<text transform="translate(309.5,623.2) scale(0.9,1)" font-family="Liberation Serif" font-size="21" font-weight="bold" fill="#000" stroke="#000" stroke-width="0.5">T<tspan dy="8">1</tspan><tspan dy="-8">=400</tspan><tspan font-family="Liberation Sans" font-size="24" dy="3.3">°</tspan><tspan font-family="Liberation Sans" font-size="19" dy="-3.3" dx="-1.5">C</tspan></text>
<text x="481.6" y="43.4" font-family="Liberation Serif" font-size="19.5" font-weight="bold" fill="#000" text-anchor="start" >75.70mW/mg</text>
<text x="505.7" y="626.1" font-family="Liberation Serif" font-size="19.5" font-weight="bold" fill="#000" text-anchor="start" >72.99mW/mg</text>
<line x1="592.7" y1="172.4" x2="645.4" y2="172.4" stroke="#10ee10" stroke-width="3.4" stroke-linecap="butt"/>
<line x1="592.7" y1="202" x2="645.4" y2="202" stroke="#f00000" stroke-width="3.4" stroke-linecap="butt"/>
<line x1="592.7" y1="230.9" x2="645.4" y2="230.9" stroke="#0000e8" stroke-width="3.4" stroke-linecap="butt"/>
<text x="652.5" y="180.4" font-family="Liberation Serif" font-size="23.5" font-weight="normal" fill="#000" text-anchor="start" stroke="#000" stroke-width="0.5">TG</text>
<text x="652.5" y="209.3" font-family="Liberation Serif" font-size="23.5" font-weight="normal" fill="#000" text-anchor="start" stroke="#000" stroke-width="0.5">DSC</text>
<text x="652.5" y="239.1" font-family="Liberation Serif" font-size="23.5" font-weight="normal" fill="#000" text-anchor="start" stroke="#000" stroke-width="0.5">DTG</text>
<line x1="592.7" y1="752.4" x2="645.4" y2="752.4" stroke="#10ee10" stroke-width="3.4" stroke-linecap="butt"/>
<line x1="592.7" y1="781.5" x2="645.4" y2="781.5" stroke="#f00000" stroke-width="3.4" stroke-linecap="butt"/>
<line x1="592.7" y1="810.3" x2="645.4" y2="810.3" stroke="#0000e8" stroke-width="3.4" stroke-linecap="butt"/>
<text x="652.5" y="760.3" font-family="Liberation Serif" font-size="23.5" font-weight="normal" fill="#000" text-anchor="start" stroke="#000" stroke-width="0.5">TG</text>
<text x="652.5" y="789.4" font-family="Liberation Serif" font-size="23.5" font-weight="normal" fill="#000" text-anchor="start" stroke="#000" stroke-width="0.5">DSC</text>
<text x="652.5" y="818.4" font-family="Liberation Serif" font-size="23.5" font-weight="normal" fill="#000" text-anchor="start" stroke="#000" stroke-width="0.5">DTG</text>
<text transform="translate(35.8,233) rotate(-90)" font-family="Liberation Serif" font-size="23" font-weight="bold" fill="#10ee10" text-anchor="middle">TG/(mg)</text>
<text transform="translate(771.9,253) rotate(-90)" font-family="Liberation Serif" font-size="20.8" font-weight="bold" fill="#f00000" text-anchor="middle">DSC/(mW/mg)</text>
<text transform="translate(847.3,233.2) rotate(-90) scale(0.91,1)" font-family="Liberation Serif" font-size="22.2" font-weight="bold" fill="#0000e8" text-anchor="middle">DTG/(%/°C)</text>
<text transform="translate(35.8,813) rotate(-90)" font-family="Liberation Serif" font-size="23" font-weight="bold" fill="#10ee10" text-anchor="middle">TG/(mg)</text>
<text transform="translate(771.9,832.5) rotate(-90)" font-family="Liberation Serif" font-size="20.8" font-weight="bold" fill="#f00000" text-anchor="middle">DSC/(mW/mg)</text>
<text transform="translate(847.3,812.8) rotate(-90) scale(0.91,1)" font-family="Liberation Serif" font-size="22.2" font-weight="bold" fill="#0000e8" text-anchor="middle">DTG/(%/°C)</text>
<text x="307.9" y="506.3" font-family="Liberation Serif" font-size="24" fill="#000" stroke="#000" stroke-width="0.45" textLength="123" lengthAdjust="spacingAndGlyphs">Temperature</text>
<text x="430.6" y="503.1" font-family="Liberation Sans" font-size="22" fill="#000">(</text>
<text x="449.8" y="506" font-family="Liberation Sans" font-size="27" fill="#000" stroke="#000" stroke-width="0.3">°</text>
<text x="457" y="506.3" font-family="Liberation Sans" font-size="23.5" fill="#000" stroke="#000" stroke-width="0.5">C</text>
<text x="475.8" y="503.1" font-family="Liberation Sans" font-size="22" fill="#000">)</text>
<text x="306.5" y="1085" font-family="Liberation Serif" font-size="24" fill="#000" stroke="#000" stroke-width="0.45" textLength="123" lengthAdjust="spacingAndGlyphs">Temperature</text>
<text x="429.2" y="1081.8" font-family="Liberation Sans" font-size="22" fill="#000">(</text>
<text x="448.4" y="1084.7" font-family="Liberation Sans" font-size="27" fill="#000" stroke="#000" stroke-width="0.3">°</text>
<text x="455.6" y="1085" font-family="Liberation Sans" font-size="23.5" fill="#000" stroke="#000" stroke-width="0.5">C</text>
<text x="474.4" y="1081.8" font-family="Liberation Sans" font-size="22" fill="#000">)</text>
<text x="302.4" y="557" font-family="Liberation Serif" font-size="27.8" font-weight="normal" fill="#000" text-anchor="start" stroke="#000" stroke-width="0.9">Before the desulfurization</text>
<text x="312.2" y="1136" font-family="Liberation Serif" font-size="27.6" font-weight="normal" fill="#000" text-anchor="start" stroke="#000" stroke-width="0.9">After the desulfurization</text>
<text x="-0.9" y="29.8" font-family="Liberation Sans" font-size="34.5" font-weight="bold" fill="#000" text-anchor="start" >A</text>
<text x="0" y="607.2" font-family="Liberation Sans" font-size="34" font-weight="bold" fill="#000" text-anchor="start" >B</text>
<ellipse cx="719.1" cy="916.8" rx="2.3" ry="1.7" fill="#10ee10"/>
<circle cx="719.3" cy="989.4" r="2.1" fill="#f00000"/>
</svg>
</body></html>
